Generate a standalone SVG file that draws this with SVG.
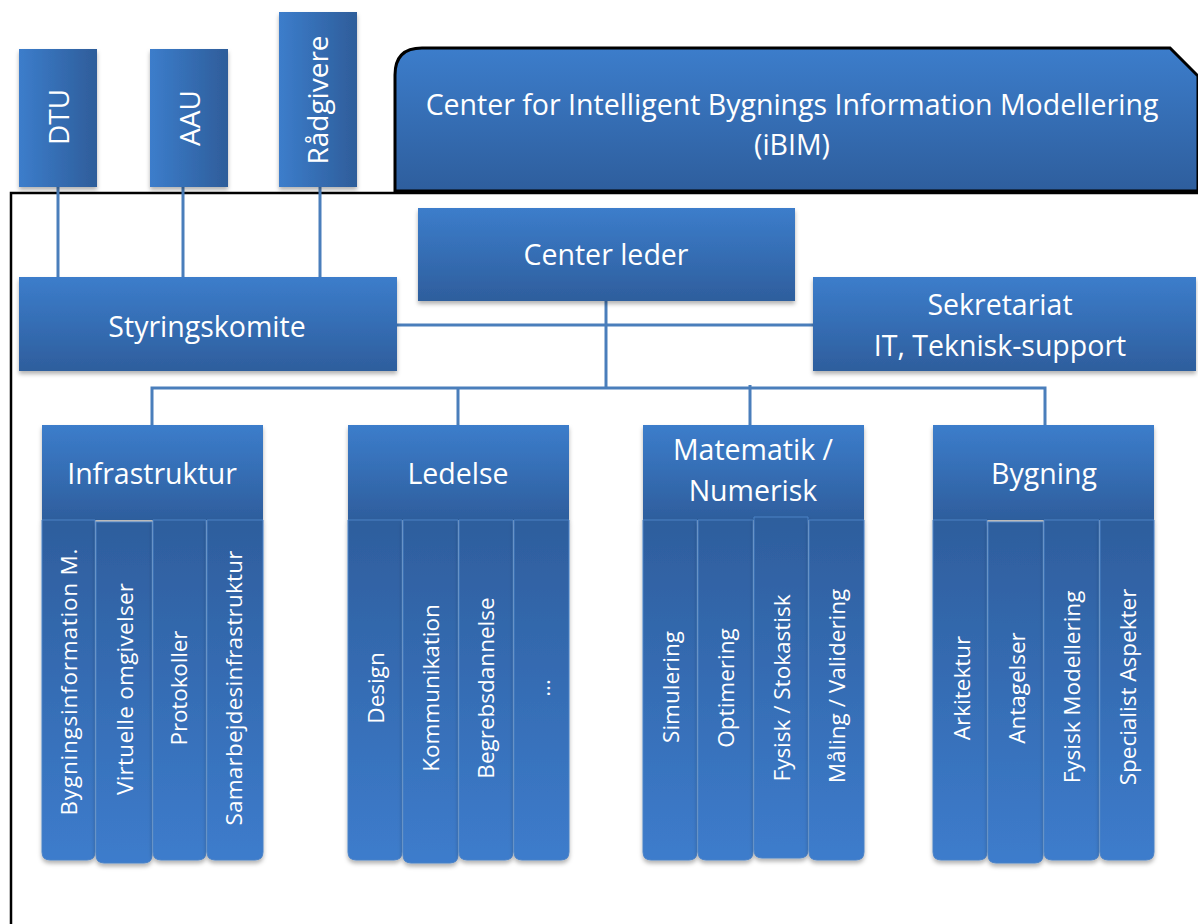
<svg xmlns="http://www.w3.org/2000/svg" width="1198" height="924" viewBox="0 0 1198 924">
<defs>
<linearGradient id="gh" x1="0" y1="0" x2="0" y2="1">
<stop offset="0" stop-color="#3c7dcb"/>
<stop offset="1" stop-color="#2e5e9d"/>
</linearGradient>
<linearGradient id="gv" x1="0" y1="0" x2="1" y2="0">
<stop offset="0" stop-color="#3c7dcb"/>
<stop offset="1" stop-color="#2e5d9a"/>
</linearGradient>
<linearGradient id="gc" x1="0" y1="0" x2="0" y2="1">
<stop offset="0" stop-color="#2e5e9d"/>
<stop offset="1" stop-color="#3d7ccc"/>
</linearGradient>
<filter id="sh" x="-10%" y="-10%" width="120%" height="130%">
<feDropShadow dx="0" dy="3" stdDeviation="2" flood-color="#000" flood-opacity="0.3"/>
</filter>
</defs>
<style>
.box{fill:url(#gh);filter:url(#sh)}
.vbox{fill:url(#gv);filter:url(#sh)}
.col{fill:url(#gc);stroke:#4b82c6;stroke-width:1;filter:url(#sh)}
.t{font-family:"Open Sans","Liberation Sans",Arial,sans-serif;fill:#fff;text-anchor:middle;font-size:28.5px}
.tv{font-family:"Open Sans","Liberation Sans",Arial,sans-serif;fill:#fff;text-anchor:middle;font-size:28px}
.ts{font-family:"Open Sans","Liberation Sans",Arial,sans-serif;fill:#fff;text-anchor:middle;font-size:22.5px}
.ln{stroke:#4a7ebb;stroke-width:3;fill:none}
.frame{stroke:#000;stroke-width:2.5;fill:none}
</style>
<rect width="1198" height="924" fill="#fff"/>
<path class="frame" d="M11,924 V193 H1198"/>
<g id="ibim">
<path d="M395,191 V75 Q395,48 422,48 H1170 L1198,76 V191 Z" fill="url(#gh)" stroke="#000" stroke-width="3"/>
<text class="t" x="792" y="115">Center for Intelligent Bygnings Information Modellering</text>
<text class="t" x="792" y="155">(iBIM)</text>
</g>
<g id="connectors">
<path class="ln" d="M58,187 V277 M183,187 V277 M320,187 V277"/>
<path class="ln" d="M397,325 H813"/>
<path class="ln" d="M606,301 V388"/>
<path class="ln" d="M152,425 V388 H1045 V425"/>
<path class="ln" d="M458,388 V425 M750,385 V425"/>
</g>
<g id="dtu"><rect class="vbox" x="19" y="49" width="78" height="138"/><text class="tv" transform="translate(69,117) rotate(-90)">DTU</text></g>
<g id="aau"><rect class="vbox" x="150" y="49" width="78" height="138"/><text class="tv" transform="translate(200,118) rotate(-90)">AAU</text></g>
<g id="radgivere"><rect class="vbox" x="279" y="12" width="78" height="175"/><text class="tv" transform="translate(328,100) rotate(-90)">Rådgivere</text></g>
<g id="centerleder"><rect class="box" x="418" y="208" width="377" height="93"/><text class="t" x="606" y="265">Center leder</text></g>
<g id="styringskomite"><rect class="box" x="19" y="277" width="378" height="94"/><text class="t" x="207" y="337">Styringskomite</text></g>
<g id="sekretariat"><rect class="box" x="813" y="277" width="383" height="94"/><text class="t" x="1000" y="315">Sekretariat</text><text class="t" x="1000" y="356">IT, Teknisk-support</text></g>
<g id="infrastruktur">
<rect class="box" x="42" y="425" width="221" height="95"/>
<text class="t" x="152" y="484">Infrastruktur</text>
<path class="col" d="M42,520 H95 V852 Q95,860 87,860 H50 Q42,860 42,852 Z"/>
<path class="col" d="M96,522 H152 V855 Q152,863 144,863 H104 Q96,863 96,855 Z"/>
<path class="col" d="M153,520 H206 V852 Q206,860 198,860 H161 Q153,860 153,852 Z"/>
<path class="col" d="M207,520 H263 V852 Q263,860 255,860 H215 Q207,860 207,852 Z"/>
<text class="ts" transform="translate(77,682) rotate(-90)" textLength="267" lengthAdjust="spacing">Bygningsinformation M.</text>
<text class="ts" transform="translate(133,689) rotate(-90)" textLength="212" lengthAdjust="spacing">Virtuelle omgivelser</text>
<text class="ts" transform="translate(187,688) rotate(-90)" textLength="115" lengthAdjust="spacing">Protokoller</text>
<text class="ts" transform="translate(242,688) rotate(-90)" textLength="275" lengthAdjust="spacing">Samarbejdesinfrastruktur</text>
</g>
<g id="ledelse">
<rect class="box" x="348" y="425" width="221" height="95"/>
<text class="t" x="458" y="484">Ledelse</text>
<path class="col" d="M348,520 H402 V852 Q402,860 394,860 H356 Q348,860 348,852 Z"/>
<path class="col" d="M403,520 H458 V855 Q458,863 450,863 H411 Q403,863 403,855 Z"/>
<path class="col" d="M459,520 H513 V852 Q513,860 505,860 H467 Q459,860 459,852 Z"/>
<path class="col" d="M514,520 H569 V852 Q569,860 561,860 H522 Q514,860 514,852 Z"/>
<text class="ts" transform="translate(384,688) rotate(-90)">Design</text>
<text class="ts" transform="translate(439,688) rotate(-90)">Kommunikation</text>
<text class="ts" transform="translate(494,688) rotate(-90)">Begrebsdannelse</text>
<text class="ts" transform="translate(550,688) rotate(-90)">...</text>
</g>
<g id="matematik">
<rect class="box" x="643" y="425" width="221" height="95"/>
<text class="t" x="753" y="460">Matematik /</text>
<text class="t" x="753" y="501">Numerisk</text>
<path class="col" d="M643,520 H697 V852 Q697,860 689,860 H651 Q643,860 643,852 Z"/>
<path class="col" d="M698,520 H753 V852 Q753,860 745,860 H706 Q698,860 698,852 Z"/>
<path class="col" d="M754,517 H808 V850 Q808,858 800,858 H762 Q754,858 754,850 Z"/>
<path class="col" d="M809,520 H864 V852 Q864,860 856,860 H817 Q809,860 809,852 Z"/>
<text class="ts" transform="translate(679,687) rotate(-90)">Simulering</text>
<text class="ts" transform="translate(734,688) rotate(-90)">Optimering</text>
<text class="ts" transform="translate(790,688) rotate(-90)">Fysisk / Stokastisk</text>
<text class="ts" transform="translate(845,686) rotate(-90)">Måling / Validering</text>
</g>
<g id="bygning">
<rect class="box" x="933" y="425" width="221" height="95"/>
<text class="t" x="1044" y="484">Bygning</text>
<path class="col" d="M933,520 H987 V852 Q987,860 979,860 H941 Q933,860 933,852 Z"/>
<path class="col" d="M988,522 H1043 V855 Q1043,863 1035,863 H996 Q988,863 988,855 Z"/>
<path class="col" d="M1044,520 H1099 V852 Q1099,860 1091,860 H1052 Q1044,860 1044,852 Z"/>
<path class="col" d="M1100,520 H1154 V852 Q1154,860 1146,860 H1108 Q1100,860 1100,852 Z"/>
<text class="ts" transform="translate(970,688) rotate(-90)">Arkitektur</text>
<text class="ts" transform="translate(1025,688) rotate(-90)">Antagelser</text>
<text class="ts" transform="translate(1080,687) rotate(-90)">Fysisk Modellering</text>
<text class="ts" transform="translate(1136,687) rotate(-90)">Specialist Aspekter</text>
</g>
</svg>
